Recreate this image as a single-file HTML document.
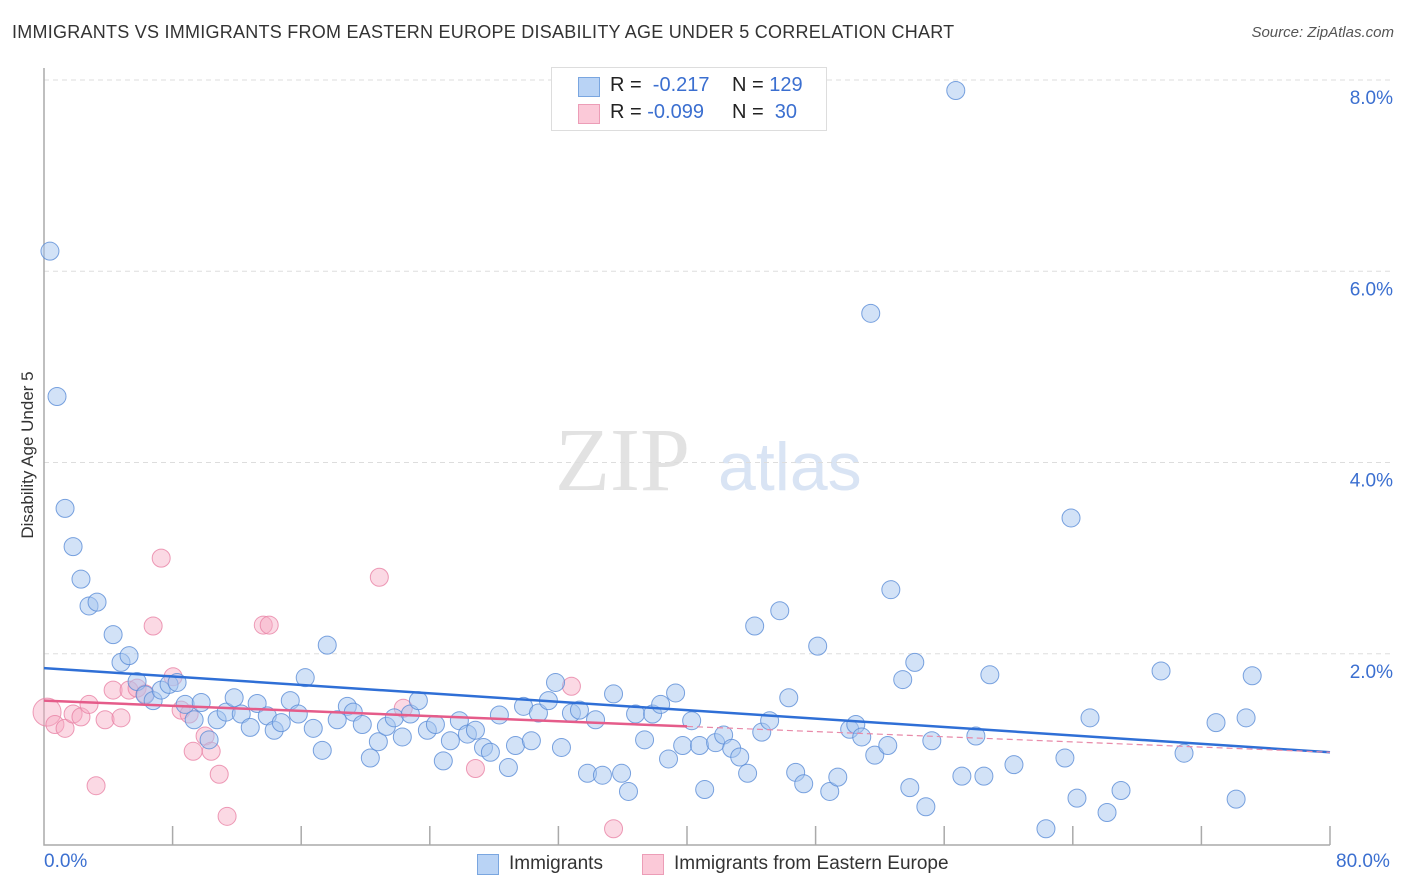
<!DOCTYPE html>
<html><head><meta charset="utf-8"><style>
body{margin:0;background:#fff;font-family:"Liberation Sans",sans-serif;}
#wrap{position:relative;width:1406px;height:892px;overflow:hidden}
.t{position:absolute;white-space:nowrap}
</style></head><body>
<div id="wrap">
<div class="t" style="left:12px;top:22px;font-size:18px;color:#333;letter-spacing:0.25px">IMMIGRANTS VS IMMIGRANTS FROM EASTERN EUROPE DISABILITY AGE UNDER 5 CORRELATION CHART</div>
<div class="t" style="right:12px;top:24px;font-size:15px;color:#555;font-style:italic">Source: ZipAtlas.com</div>
<div class="t" style="left:28px;top:455px;font-size:17px;color:#333;transform:translate(-50%,-50%) rotate(-90deg)">Disability Age Under 5</div>
<svg id="plot" width="1406" height="892" style="position:absolute;left:0;top:0"></svg>
<div class="t" style="left:44px;top:851px;font-size:19px;color:#3b6fd0">0.0%</div>
<div class="t" style="left:1336px;top:851px;font-size:19px;color:#3b6fd0">80.0%</div>
<div style="position:absolute;left:551px;top:67px;width:274px;height:62px;border:1px solid #ddd;background:#fff;font-size:20px">
 <div style="position:absolute;left:26px;top:9px;width:20px;height:18px;background:#b9d3f5;border:1px solid #7aa6e0"></div>
 <div class="t" style="left:58px;top:6px;color:#222">R = <span style="color:#3b6fd0">&nbsp;-0.217</span></div>
 <div class="t" style="left:180px;top:6px;color:#222">N = <span style="color:#3b6fd0">129</span></div>
 <div style="position:absolute;left:26px;top:36px;width:20px;height:18px;background:#fbc9d8;border:1px solid #ec9db7"></div>
 <div class="t" style="left:58px;top:33px;color:#222">R = <span style="color:#3b6fd0">-0.099</span></div>
 <div class="t" style="left:180px;top:33px;color:#222">N = <span style="color:#3b6fd0">&nbsp;30</span></div>
</div>
<div style="position:absolute;left:477px;top:853px;font-size:19px;color:#333">
 <div style="position:absolute;left:0;top:1px;width:20px;height:19px;background:#b9d3f5;border:1px solid #7aa6e0"></div>
 <div class="t" style="left:32px;top:0">Immigrants</div>
 <div style="position:absolute;left:165px;top:1px;width:20px;height:19px;background:#fbc9d8;border:1px solid #ec9db7"></div>
 <div class="t" style="left:197px;top:0">Immigrants from Eastern Europe</div>
</div>
</div>
<script>
const yTicks=[2,4,6,8];
const yTickLabels=["2.0%","4.0%","6.0%","8.0%"];
const blueX=[0.37,0.81,1.31,1.81,2.30,2.80,3.30,4.30,4.79,5.29,5.79,6.29,6.79,7.29,7.78,8.28,8.78,9.34,9.78,10.27,10.77,11.33,11.83,12.27,12.83,13.26,13.89,14.32,14.76,15.32,15.82,16.25,16.75,17.31,17.62,18.24,18.87,19.24,19.80,20.30,20.80,21.30,21.79,22.29,22.79,23.29,23.85,24.35,24.84,25.28,25.84,26.34,26.84,27.34,27.77,28.33,28.89,29.33,29.83,30.32,30.76,31.38,31.82,32.19,32.81,33.31,33.81,34.31,34.74,35.43,35.93,36.36,36.80,37.36,37.86,38.36,38.85,39.29,39.73,40.29,40.78,41.10,41.78,42.28,42.78,43.28,43.77,44.21,44.65,45.14,45.77,46.33,46.76,47.26,48.13,48.88,49.38,50.12,50.50,50.87,51.43,51.68,52.49,52.68,53.42,53.86,54.17,54.86,55.23,56.72,57.10,57.97,58.47,58.84,60.34,62.33,63.51,63.89,64.26,65.07,66.13,67.00,69.49,70.92,72.91,74.16,74.78,75.16];
const blueY=[6.21,4.69,3.52,3.12,2.78,2.50,2.54,2.20,1.91,1.98,1.71,1.57,1.51,1.62,1.68,1.70,1.47,1.31,1.49,1.10,1.31,1.39,1.54,1.37,1.23,1.48,1.35,1.20,1.28,1.51,1.37,1.75,1.22,0.99,2.09,1.31,1.45,1.39,1.26,0.91,1.08,1.24,1.33,1.13,1.37,1.51,1.20,1.26,0.88,1.09,1.30,1.16,1.20,1.02,0.97,1.36,0.81,1.04,1.45,1.09,1.38,1.51,1.70,1.02,1.38,1.41,0.75,1.31,0.73,1.58,0.75,0.56,1.37,1.10,1.37,1.47,0.90,1.59,1.04,1.30,1.04,0.58,1.07,1.15,1.01,0.92,0.75,2.29,1.18,1.30,2.45,1.54,0.76,0.64,2.08,0.56,0.71,1.21,1.26,1.13,5.56,0.94,1.04,2.67,1.73,0.60,1.91,0.40,1.09,7.89,0.72,1.14,0.72,1.78,0.84,0.17,0.91,3.42,0.49,1.33,0.34,0.57,1.82,0.96,1.28,0.48,1.33,1.77];
const pinkX=[0.19,0.68,1.31,1.81,2.30,2.80,3.24,3.80,4.30,4.79,5.29,5.79,6.29,6.79,7.29,8.03,8.53,9.03,9.28,10.02,10.40,10.90,11.39,13.64,14.01,20.86,22.35,26.84,32.81,35.43];
const pinkY=[1.39,1.26,1.22,1.37,1.34,1.47,0.62,1.31,1.62,1.33,1.62,1.64,1.58,2.29,3.00,1.76,1.41,1.37,0.98,1.14,0.98,0.74,0.30,2.30,2.30,2.80,1.43,0.80,1.66,0.17];
const blueTrend=[1.85,0.97];
const pinkTrend=[1.51,0.97];
const pinkSolidEnd=40;
const X0=44,X1=1330,Y0=845,YMAXPX=80;
const xs=v=>X0+(v/80)*(X1-X0);
const ys=v=>Y0-(v/8)*(Y0-YMAXPX);
const svg=document.getElementById('plot');
const NS='http://www.w3.org/2000/svg';
function mk(tag,attrs){const e=document.createElementNS(NS,tag);for(const k in attrs)e.setAttribute(k,attrs[k]);svg.appendChild(e);return e;}
let wm=mk('text',{x:555,y:490,'font-size':90,'font-family':'Liberation Serif, serif',fill:'#e2e2e2'});wm.textContent='ZIP';


let wm2=mk('text',{x:718,y:490,'font-size':68,'font-family':'Liberation Sans, sans-serif',fill:'#d9e4f4'});wm2.textContent='atlas';


yTicks.forEach((t,i)=>{
 const g=mk('line',{x1:X0,x2:1393,y1:ys(t),y2:ys(t),stroke:'#ddd','stroke-dasharray':'5,4','stroke-width':1});
 
 
 const l=mk('text',{x:1393,y:ys(t)+24,'text-anchor':'end','font-size':19,fill:'#3b6fd0','font-family':'Liberation Sans, sans-serif'});
 l.textContent=yTickLabels[i];
 
 
});
const ax=mk('path',{d:`M${X0},68 L${X0},${Y0} L${X1},${Y0}`,fill:'none',stroke:'#aaa','stroke-width':1.5});


for(let i=1;i<=10;i++){
 const tk=mk('line',{x1:xs(i*8),x2:xs(i*8),y1:826,y2:Y0,stroke:'#aaa','stroke-width':1.5});
 
 
}
pinkX.forEach((x,i)=>{
 const c=mk('circle',{cx:xs(x),cy:ys(pinkY[i]),r:i===0?14:9,fill:'rgba(246,170,195,0.45)',stroke:'rgba(232,130,165,0.8)','stroke-width':1});
 
 
});
blueX.forEach((x,i)=>{
 const c=mk('circle',{cx:xs(x),cy:ys(blueY[i]),r:9,fill:'rgba(165,198,240,0.5)',stroke:'rgba(90,140,215,0.8)','stroke-width':1});
 
 
});
const bt=mk('line',{x1:xs(0),y1:ys(blueTrend[0]),x2:xs(80),y2:ys(blueTrend[1]),stroke:'#2f6fd6','stroke-width':2.5});


const pm=pinkTrend[0]+(pinkTrend[1]-pinkTrend[0])*pinkSolidEnd/80;
const pt=mk('line',{x1:xs(0),y1:ys(pinkTrend[0]),x2:xs(pinkSolidEnd),y2:ys(pm),stroke:'#e55c8a','stroke-width':2.5});


const pd=mk('line',{x1:xs(pinkSolidEnd),y1:ys(pm),x2:xs(80),y2:ys(pinkTrend[1]),stroke:'#e88aa9','stroke-width':1.2,'stroke-dasharray':'6,4'});


</script>
</body></html>
